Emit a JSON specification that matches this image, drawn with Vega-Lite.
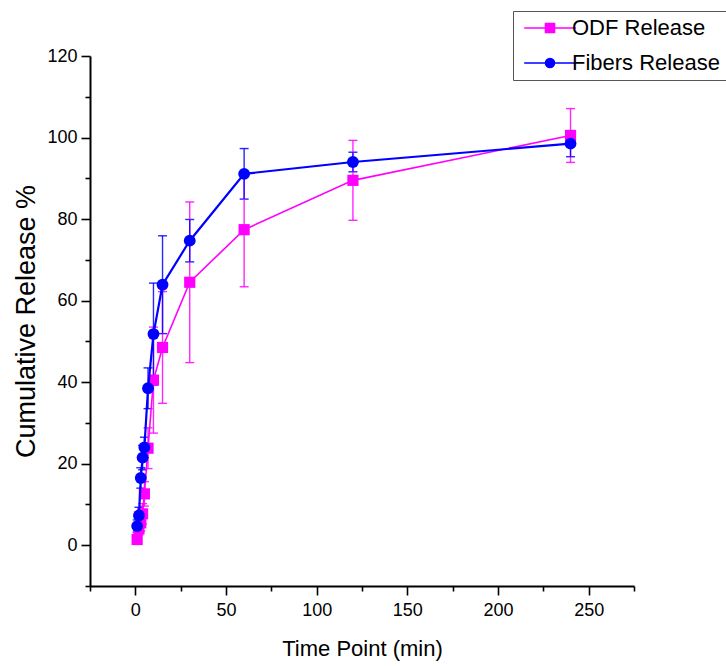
{
  "$schema": "https://vega.github.io/schema/vega-lite/v6.json",
  "width": 544,
  "height": 530,
  "autosize": {"type": "none"},
  "padding": {"left": 90, "top": 56, "right": 92, "bottom": 80},
  "background": "white",
  "config": {"view": {"stroke": null}, "font": "Liberation Sans"},
  "data": {
    "values": [
      {"series": "ODF Release", "time": 1, "mean": 1.4, "sd": 1.0},
      {"series": "ODF Release", "time": 2, "mean": 4.0, "sd": 1.5},
      {"series": "ODF Release", "time": 3, "mean": 5.5, "sd": 2.0},
      {"series": "ODF Release", "time": 4, "mean": 7.7, "sd": 2.5},
      {"series": "ODF Release", "time": 5, "mean": 12.6, "sd": 3.0},
      {"series": "ODF Release", "time": 7, "mean": 23.8, "sd": 5.0},
      {"series": "ODF Release", "time": 10, "mean": 40.5, "sd": 13.0},
      {"series": "ODF Release", "time": 15, "mean": 48.5, "sd": 13.7},
      {"series": "ODF Release", "time": 30, "mean": 64.5, "sd": 19.7},
      {"series": "ODF Release", "time": 60, "mean": 77.4, "sd": 14.0},
      {"series": "ODF Release", "time": 120, "mean": 89.5, "sd": 9.8},
      {"series": "ODF Release", "time": 240, "mean": 100.5, "sd": 6.6},
      {"series": "Fibers Release", "time": 1, "mean": 4.7, "sd": 1.5},
      {"series": "Fibers Release", "time": 2, "mean": 7.3, "sd": 2.0},
      {"series": "Fibers Release", "time": 3, "mean": 16.5, "sd": 2.5},
      {"series": "Fibers Release", "time": 4, "mean": 21.5, "sd": 3.0},
      {"series": "Fibers Release", "time": 5, "mean": 24.0, "sd": 2.5},
      {"series": "Fibers Release", "time": 7, "mean": 38.5, "sd": 5.0},
      {"series": "Fibers Release", "time": 10, "mean": 51.8, "sd": 12.5},
      {"series": "Fibers Release", "time": 15, "mean": 63.9, "sd": 12.0},
      {"series": "Fibers Release", "time": 30, "mean": 74.7, "sd": 5.2},
      {"series": "Fibers Release", "time": 60, "mean": 91.1, "sd": 6.2},
      {"series": "Fibers Release", "time": 120, "mean": 94.0, "sd": 2.4},
      {"series": "Fibers Release", "time": 240, "mean": 98.5, "sd": 3.2}
    ]
  },
  "encoding": {
    "x": {
      "field": "time",
      "type": "quantitative",
      "scale": {"domain": [-25, 275], "nice": false, "zero": false},
      "axis": {
        "title": "Time Point (min)",
        "titleFont": "Liberation Sans",
        "titleFontSize": 22,
        "titleFontWeight": "normal",
        "titleColor": "black",
        "titlePadding": 19,
        "values": [-25, 0, 25, 50, 75, 100, 125, 150, 175, 200, 225, 250, 275],
        "labelExpr": "datum.value % 50 === 0 ? datum.label : ''",
        "labelFont": "Liberation Sans",
        "labelFontSize": 18,
        "labelColor": "black",
        "labelPadding": 6,
        "labelOverlap": false,
        "labelFlush": false,
        "grid": false,
        "domainColor": "black",
        "domainWidth": 2,
        "tickColor": "black",
        "tickWidth": 1.6,
        "tickSize": {"condition": {"test": "datum.value % 50 === 0", "value": 9}, "value": 5}
      }
    },
    "y": {
      "field": "mean",
      "type": "quantitative",
      "scale": {"domain": [-10, 120], "nice": false, "zero": false},
      "axis": {
        "title": "Cumulative Release %",
        "titleFont": "Liberation Sans",
        "titleFontSize": 27,
        "titleFontWeight": "normal",
        "titleColor": "black",
        "titlePadding": 6,
        "values": [-10, 0, 10, 20, 30, 40, 50, 60, 70, 80, 90, 100, 110, 120],
        "labelExpr": "datum.value % 20 === 0 ? datum.label : ''",
        "labelFont": "Liberation Sans",
        "labelFontSize": 18,
        "labelColor": "black",
        "labelPadding": 4,
        "labelOverlap": false,
        "labelFlush": false,
        "grid": false,
        "domainColor": "black",
        "domainWidth": 2,
        "tickColor": "black",
        "tickWidth": 1.6,
        "tickSize": {"condition": {"test": "datum.value % 20 === 0", "value": 9}, "value": 5}
      }
    },
    "color": {
      "field": "series",
      "type": "nominal",
      "scale": {"domain": ["ODF Release", "Fibers Release"], "range": ["#ff00ff", "#0000ff"]},
      "legend": {
        "orient": "none",
        "legendX": 423,
        "legendY": -45,
        "title": null,
        "direction": "vertical",
        "strokeColor": "#555555",
        "fillColor": "white",
        "padding": 6,
        "labelFont": "Liberation Sans",
        "labelFontSize": 22,
        "labelColor": "black",
        "labelLimit": 400,
        "symbolSize": 144,
        "symbolOffset": 20,
        "labelOffset": 11,
        "rowPadding": 13,
        "encode": {
          "symbols": {
            "update": {
              "shape": {"signal": "datum.value === 'ODF Release' ? 'M-4.3,0H4.3M-0.75,-0.75H0.75V0.75H-0.75Z' : 'M-4.3,0H4.3M0.75,0A0.75,0.75,0,1,1,-0.75,0A0.75,0.75,0,1,1,0.75,0Z'"},
              "fill": {"signal": "datum.value === 'ODF Release' ? '#ff00ff' : '#0000ff'"},
              "stroke": {"signal": "datum.value === 'ODF Release' ? '#ff00ff' : '#0000ff'"},
              "strokeWidth": {"value": 1.6},
              "opacity": {"value": 1}
            }
          }
        }
      }
    }
  },
  "layer": [
    {
      "mark": {"type": "errorbar", "ticks": {"size": 9, "thickness": 1.4}, "rule": {"strokeWidth": 1.4}, "opacity": 0.85},
      "encoding": {"yError": {"field": "sd"}}
    },
    {
      "transform": [{"filter": "datum.series === 'ODF Release'"}],
      "mark": {"type": "line", "strokeWidth": 1.6},
      "encoding": {}
    },
    {
      "transform": [{"filter": "datum.series === 'ODF Release'"}],
      "mark": {"type": "point", "shape": "square", "filled": true, "size": 125, "opacity": 1},
      "encoding": {}
    },
    {
      "transform": [{"filter": "datum.series === 'Fibers Release'"}],
      "mark": {"type": "line", "strokeWidth": 2.2},
      "encoding": {}
    },
    {
      "transform": [{"filter": "datum.series === 'Fibers Release'"}],
      "mark": {"type": "point", "shape": "circle", "filled": true, "size": 140, "opacity": 1},
      "encoding": {}
    }
  ]
}
